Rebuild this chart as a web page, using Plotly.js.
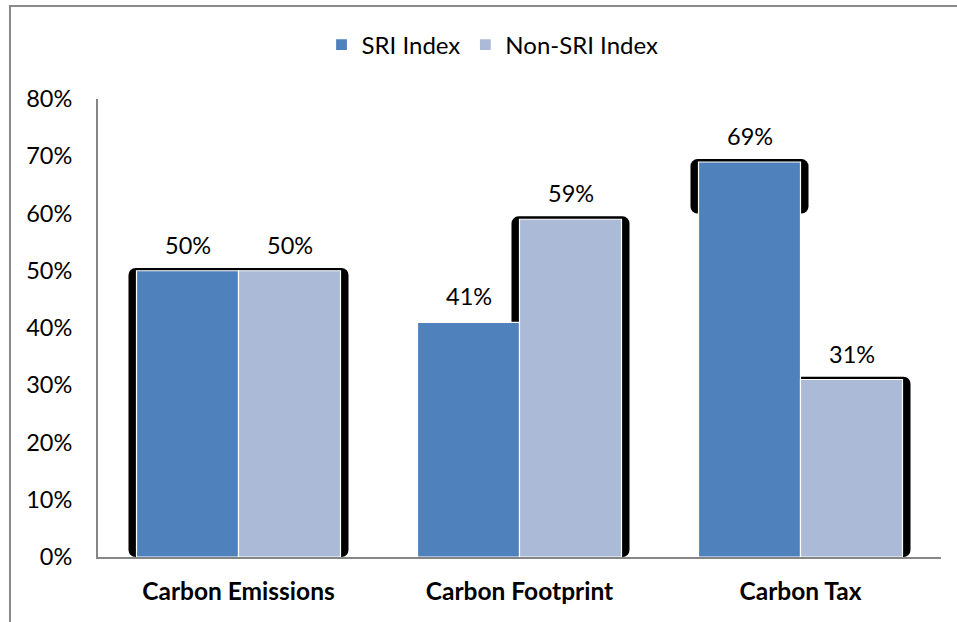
<!DOCTYPE html>
<html>
<head>
<meta charset="utf-8">
<script src="https://cdn.plot.ly/plotly-3.0.1.min.js"></script>
<style>
  html, body { margin: 0; padding: 0; background: #ffffff; }
  #frame {
    position: absolute; left: 9px; top: 5px; width: 960px; height: 630px;
    border-left: 2px solid #8a8a8a; border-top: 2px solid #8a8a8a;
    pointer-events: none;
  }
  #chart { position: absolute; left: 0; top: 0; width: 957px; height: 622px; }
</style>
</head>
<body>
<div id="chart"></div>
<div id="frame"></div>
<script>
// Share of index exposure by carbon measure (%)
const categories = ['Carbon Emissions', 'Carbon Footprint', 'Carbon Tax'];
const sriValues = [50, 41, 69];
const nonSriValues = [50, 59, 31];
const seriesNames = ['SRI Index', 'Non-SRI Index'];
const yTicks = [0, 10, 20, 30, 40, 50, 60, 70, 80];

// Dark backdrop behind each bar: shown or not, and the level it starts from
const sriBackdropShown = [true, false, true];
const sriBackdropFloor = [0, 0, 60];
const nonSriBackdropShown = [true, true, true];
const nonSriBackdropFloor = [0, 0, 0];

const xPos = categories.map((c, i) => i);
const barW = 0.363;          // width of one bar in category units
const pad = 0.0285;          // backdrop overhang on each side
const topPad = 0.5;          // backdrop rise above the bar (in %)

function backdrop(values, shown, floor, offset) {
  return {
    type: 'bar',
    x: xPos,
    y: values.map((v, i) => shown[i] ? v + topPad - floor[i] : null),
    base: floor,
    offset: offset - pad,
    width: barW + 2 * pad,
    marker: { color: '#000000', cornerradius: 7, line: { width: 0 } },
    hoverinfo: 'skip',
    showlegend: false
  };
}

const traces = [
  backdrop(sriValues, sriBackdropShown, sriBackdropFloor, -barW),
  backdrop(nonSriValues, nonSriBackdropShown, nonSriBackdropFloor, 0),
  {
    type: 'bar', name: seriesNames[0], x: xPos, y: sriValues,
    offset: -barW, width: barW,
    marker: { color: '#4F81BD', line: { color: '#ffffff', width: 1.2 } }
  },
  {
    type: 'bar', name: seriesNames[1], x: xPos, y: nonSriValues,
    offset: 0, width: barW,
    marker: { color: '#AABAD7', line: { color: '#ffffff', width: 1.2 } }
  }
];

const family = 'Lato, "Open Sans", sans-serif';
const labelFont = { family: family, size: 23.5, color: '#000000' };
const annotations = [];
sriValues.forEach((v, i) => annotations.push({
  x: i - barW / 2, y: v, xref: 'x', yref: 'y', text: v + '%', showarrow: false,
  yanchor: 'middle', yshift: 26, font: labelFont
}));
nonSriValues.forEach((v, i) => annotations.push({
  x: i + barW / 2, y: v, xref: 'x', yref: 'y', text: v + '%', showarrow: false,
  yanchor: 'middle', yshift: 26, font: labelFont
}));

const layout = {
  width: 957, height: 622,
  margin: { l: 98, r: 16, t: 99, b: 65 },
  paper_bgcolor: 'rgba(0,0,0,0)',
  plot_bgcolor: 'rgba(0,0,0,0)',
  barmode: 'overlay',
  showlegend: true,
  legend: {
    orientation: 'h', x: 0.468, xanchor: 'center', y: 1.118, yanchor: 'middle',
    font: { family: family, size: 24, color: '#000000' }, itemwidth: 30, traceorder: 'normal'
  },
  xaxis: {
    range: [-0.5, 2.5],
    tickmode: 'array', tickvals: xPos, ticktext: categories,
    showline: true, linecolor: '#868686', linewidth: 2,
    showgrid: false, zeroline: false, ticks: '',
    ticklabelstandoff: 12,
    tickfont: { family: family, size: 24.5, color: '#000000', weight: 'bold' }
  },
  yaxis: {
    range: [0, 80],
    tickmode: 'array', tickvals: yTicks, ticktext: yTicks.map(t => t + '%'),
    showline: true, linecolor: '#868686', linewidth: 2,
    showgrid: false, zeroline: false, ticks: '',
    ticklabelstandoff: 19,
    tickfont: labelFont
  },
  annotations: annotations
};

Plotly.newPlot('chart', traces, layout, { displayModeBar: false, staticPlot: true });
</script>
</body>
</html>
